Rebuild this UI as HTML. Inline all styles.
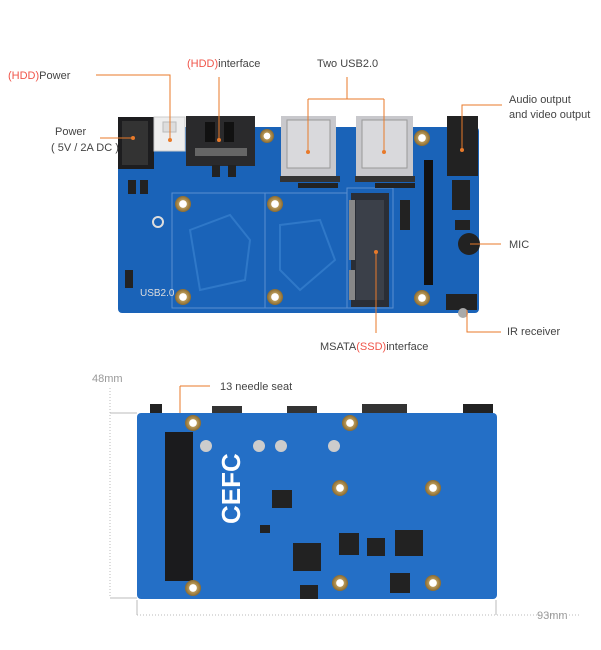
<!DOCTYPE html>
<html><head><meta charset="utf-8"><style>
html,body{margin:0;padding:0;background:#fff;width:601px;height:650px;overflow:hidden}
svg{display:block}
text{font-family:"Liberation Sans",sans-serif;font-size:11px;fill:#444}
.r{fill:#f0554a}
</style></head><body>
<svg width="601" height="650" viewBox="0 0 601 650">
<defs>
<radialGradient id="h"><stop offset="0.45" stop-color="#fff"/><stop offset="0.5" stop-color="#b99a5a"/><stop offset="1" stop-color="#8a6a30"/></radialGradient>
</defs>
<!-- TOP BOARD -->
<rect x="118" y="127" width="361" height="186" rx="4" fill="#1a63b8"/>
<rect x="172" y="193" width="93" height="115" fill="none" stroke="#5a8fd0" stroke-width="1"/>
<rect x="265" y="193" width="82" height="115" fill="none" stroke="#5a8fd0" stroke-width="1"/>
<rect x="347" y="188" width="46" height="120" fill="none" stroke="#5a8fd0" stroke-width="1"/>
<path d="M190 230 L230 215 L250 240 L245 280 L200 290 Z M280 225 L320 220 L335 260 L300 290 L280 270 Z" fill="none" stroke="#2f78c8" stroke-width="2"/>
<!-- mSATA socket -->
<rect x="351" y="193" width="38" height="114" fill="#2a2e36"/>
<rect x="356" y="200" width="28" height="100" fill="#3b4049"/>
<rect x="349" y="200" width="6" height="60" fill="#888"/><rect x="349" y="270" width="6" height="30" fill="#888"/>
<!-- holes -->
<g fill="url(#h)">
<circle cx="183" cy="204" r="8"/><circle cx="275" cy="204" r="8"/><circle cx="183" cy="297" r="8"/><circle cx="275" cy="297" r="8"/><circle cx="422" cy="138" r="8"/><circle cx="422" cy="298" r="8"/><circle cx="267" cy="136" r="7"/>
</g>
<!-- power jack -->
<rect x="118" y="117" width="36" height="52" fill="#1d1d1f"/>
<rect x="122" y="121" width="26" height="44" fill="#333"/>
<!-- white conn -->
<rect x="154" y="117" width="31" height="34" fill="#eee" stroke="#ccc"/>
<rect x="163" y="122" width="13" height="10" fill="#ddd" stroke="#bbb"/>
<!-- SATA -->
<rect x="186" y="116" width="69" height="50" fill="#2a2a2c"/>
<rect x="205" y="122" width="10" height="20" fill="#111"/><rect x="224" y="122" width="10" height="20" fill="#111"/>
<rect x="195" y="148" width="52" height="8" fill="#666"/>
<!-- USB -->
<rect x="281" y="116" width="55" height="60" fill="#c8c8cc"/><rect x="287" y="120" width="43" height="48" fill="#d9d9dc" stroke="#999"/>
<rect x="356" y="116" width="57" height="60" fill="#c8c8cc"/><rect x="362" y="120" width="45" height="48" fill="#d9d9dc" stroke="#999"/>
<rect x="280" y="176" width="60" height="6" fill="#333"/><rect x="355" y="176" width="60" height="6" fill="#333"/>
<!-- audio -->
<rect x="447" y="116" width="31" height="60" fill="#222"/>
<!-- pin column -->
<g fill="#111"><rect x="424" y="160" width="9" height="125"/></g>
<!-- MIC -->
<circle cx="469" cy="244" r="11" fill="#222"/>
<!-- IR -->
<rect x="446" y="294" width="31" height="16" fill="#222"/><circle cx="463" cy="313" r="5" fill="#aaa"/>
<!-- small parts -->
<g fill="#222"><rect x="128" y="180" width="8" height="14"/><rect x="140" y="180" width="8" height="14"/><rect x="212" y="165" width="8" height="12"/><rect x="228" y="165" width="8" height="12"/><rect x="298" y="183" width="40" height="5"/><rect x="375" y="183" width="40" height="5"/><rect x="400" y="200" width="10" height="30"/><rect x="452" y="180" width="18" height="30"/><rect x="455" y="220" width="15" height="10"/><rect x="125" y="270" width="8" height="18"/></g>
<circle cx="158" cy="222" r="5" fill="none" stroke="#ddd" stroke-width="2"/>
<text x="140" y="296" style="fill:#ddd;font-size:10px">USB2.0</text>
<!-- TOP LABELS -->
<g stroke="#e87a2a" stroke-width="1" fill="none">
<path d="M96 75 H170 V140"/><path d="M219 77 V140"/><path d="M347 77 V99 M308 99 H384 M308 99 V152 M384 99 V152"/>
<path d="M502 105 H462 V150"/><path d="M470 244 H501"/><path d="M467 310 V332 H501"/><path d="M376 252 V333"/><path d="M100 138 H133"/>
<path d="M180 386 H210 M180 386 V510"/>
</g>
<g fill="#e87a2a"><circle cx="170" cy="140" r="2"/><circle cx="219" cy="140" r="2"/><circle cx="308" cy="152" r="2"/><circle cx="384" cy="152" r="2"/><circle cx="462" cy="150" r="2"/><circle cx="133" cy="138" r="2"/><circle cx="376" cy="252" r="2"/><circle cx="180" cy="510" r="2"/></g>
<text x="8" y="79"><tspan class="r">(HDD)</tspan>Power</text>
<text x="187" y="67"><tspan class="r">(HDD)</tspan>interface</text>
<text x="317" y="67">Two USB2.0</text>
<text x="509" y="103">Audio output</text>
<text x="509" y="118">and video output</text>
<text x="509" y="248">MIC</text>
<text x="507" y="335">IR receiver</text>
<text x="320" y="350">MSATA<tspan class="r">(SSD)</tspan>interface</text>
<text x="55" y="135">Power</text>
<text x="51" y="151">( 5V / 2A DC )</text>
<!-- BOTTOM BOARD -->
<rect x="150" y="404" width="12" height="12" fill="#222"/><rect x="212" y="406" width="30" height="8" fill="#333"/><rect x="287" y="406" width="30" height="8" fill="#333"/><rect x="362" y="404" width="45" height="10" fill="#333"/><rect x="463" y="404" width="30" height="10" fill="#222"/>
<rect x="137" y="413" width="360" height="186" rx="4" fill="#246fc6"/>
<rect x="165" y="432" width="28" height="149" fill="#1b1b1d"/>
<g fill="url(#h)"><circle cx="193" cy="423" r="8"/><circle cx="350" cy="423" r="8"/><circle cx="340" cy="488" r="8"/><circle cx="433" cy="488" r="8"/><circle cx="193" cy="588" r="8"/><circle cx="340" cy="583" r="8"/><circle cx="433" cy="583" r="8"/></g>
<g fill="#ccc"><circle cx="206" cy="446" r="6"/><circle cx="259" cy="446" r="6"/><circle cx="281" cy="446" r="6"/><circle cx="334" cy="446" r="6"/></g>
<text x="206" y="540" transform="rotate(-90 215 515)" style="fill:#fff;font-size:26px;font-weight:bold">CEFC</text>
<g fill="#222"><rect x="272" y="490" width="20" height="18"/><rect x="293" y="543" width="28" height="28"/><rect x="339" y="533" width="20" height="22"/><rect x="367" y="538" width="18" height="18"/><rect x="395" y="530" width="28" height="26"/><rect x="390" y="573" width="20" height="20"/><rect x="300" y="585" width="18" height="14"/><rect x="260" y="525" width="10" height="8"/></g>
<!-- dimensions -->
<text x="92" y="382" style="fill:#999">48mm</text>
<text x="537" y="619" style="fill:#999">93mm</text>
<g stroke="#bbb" stroke-width="1" fill="none">
<path d="M110 388 V598" stroke-dasharray="1,2"/><path d="M110 413 H137 M110 598 H137"/>
<path d="M137 600 V615 M496 600 V615"/><path d="M137 615 H580" stroke-dasharray="1,2"/>
</g>
<text x="220" y="390">13 needle seat</text>
</svg>
</body></html>
